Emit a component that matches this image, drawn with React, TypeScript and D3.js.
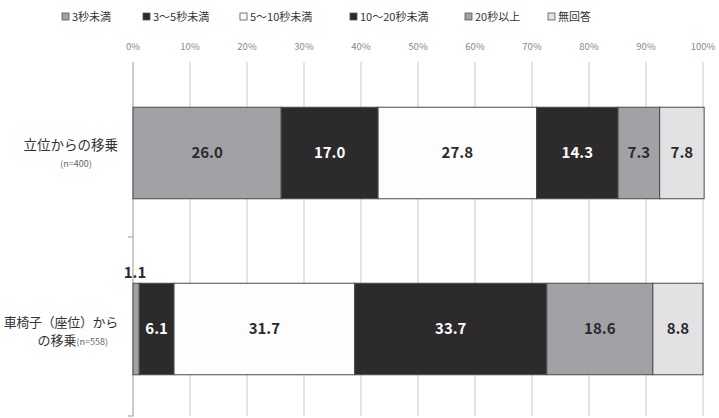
import React from "react";
import * as d3 from "d3";

const seriesNames = ["3秒未満", "3～5秒未満", "5～10秒未満", "10～20秒未満", "20秒以上", "無回答"];
const categories = ["立位からの移乗", "車椅子（座位）からの移乗"];
const standingValues = [26.0, 17.0, 27.8, 14.3, 7.3, 7.8];
const wheelchairValues = [1.1, 6.1, 31.7, 33.7, 18.6, 8.8];
const tickValues = [0, 10, 20, 30, 40, 50, 60, 70, 80, 90, 100];

const fills = ["#a2a2a6", "#2c2a2b", "#fdfdfd", "#2c2a2b", "#a2a2a6", "#e2e2e4"];
const textFills = ["#2a2a2a", "#ffffff", "#2a2a2a", "#ffffff", "#2a2a2a", "#2a2a2a"];
const legendX = [62, 143, 240, 350, 465, 548];

const FONT = "'Noto Sans CJK JP', 'Noto Sans', sans-serif";

export default function App() {
  const W = 719, H = 418;
  const x = d3.scaleLinear().domain([0, 100]).range([133, 703]);
  const y = d3.scaleBand<string>().domain(categories).range([65, 417]).paddingInner(0.48).paddingOuter(0.24);
  const rows = [standingValues, wheelchairValues];
  const gridTop = 62, gridBottom = 416;

  return (
    <svg width={W} height={H} style={{ position: "absolute", left: 0, top: 0, background: "#fff" }} fontFamily={FONT}>
      {/* legend */}
      {seriesNames.map((n, i) => (
        <g key={n} transform={`translate(${legendX[i]},17)`}>
          <rect x={0} y={-4} width={7} height={7} fill={fills[i]} stroke="#555" strokeWidth={0.8} />
          <text x={10} y={4} fontSize={11} fill="#333">{n}</text>
        </g>
      ))}
      {/* tick labels */}
      {tickValues.map((t) => (
        <text key={t} x={x(t)} y={50} fontSize={9.5} fill="#888" textAnchor="middle">{t}%</text>
      ))}
      {/* gridlines */}
      {tickValues.map((t) => (
        <line key={t} x1={x(t)} x2={x(t)} y1={gridTop} y2={gridBottom} stroke={t === 0 ? "#999" : "#c9c9cc"} strokeWidth={1} />
      ))}
      <line x1={128} x2={133} y1={237} y2={237} stroke="#999" />
      <line x1={128} x2={133} y1={gridBottom} y2={gridBottom} stroke="#999" />
      {/* bars */}
      {rows.map((vals, r) => {
        const cat = categories[r];
        const y0 = y(cat)!;
        const bh = y.bandwidth();
        const cum = d3.cumsum(vals);
        return (
          <g key={cat}>
            {vals.map((v, i) => {
              const start = i === 0 ? 0 : cum[i - 1];
              const x0 = x(start), x1 = x(start + v);
              const small = v < 3;
              return (
                <g key={i}>
                  <rect x={x0} y={y0} width={x1 - x0} height={bh} fill={fills[i]} stroke="#4a4a4a" strokeWidth={1} />
                  <text
                    x={small ? x0 + 2 : (x0 + x1) / 2}
                    y={small ? y0 - 5 : y0 + bh / 2 + 5}
                    fontSize={15}
                    fontWeight={600}
                    fill={small ? "#2a2a2a" : textFills[i]}
                    textAnchor="middle"
                  >
                    {v.toFixed(1)}
                  </text>
                </g>
              );
            })}
          </g>
        );
      })}
      {/* category labels */}
      <text x={118} y={150} fontSize={13.5} fill="#333" textAnchor="end">立位からの移乗</text>
      <text x={76} y={167} fontSize={9} fill="#666" textAnchor="middle">(n=400)</text>
      <text x={118} y={327} fontSize={13} fill="#333" textAnchor="end" letterSpacing={-0.3}>車椅子（座位）から</text>
      <text x={108} y={345} fontSize={13} fill="#333" textAnchor="end">
        の移乗<tspan fontSize={9} fill="#666">(n=558)</tspan>
      </text>
    </svg>
  );
}
